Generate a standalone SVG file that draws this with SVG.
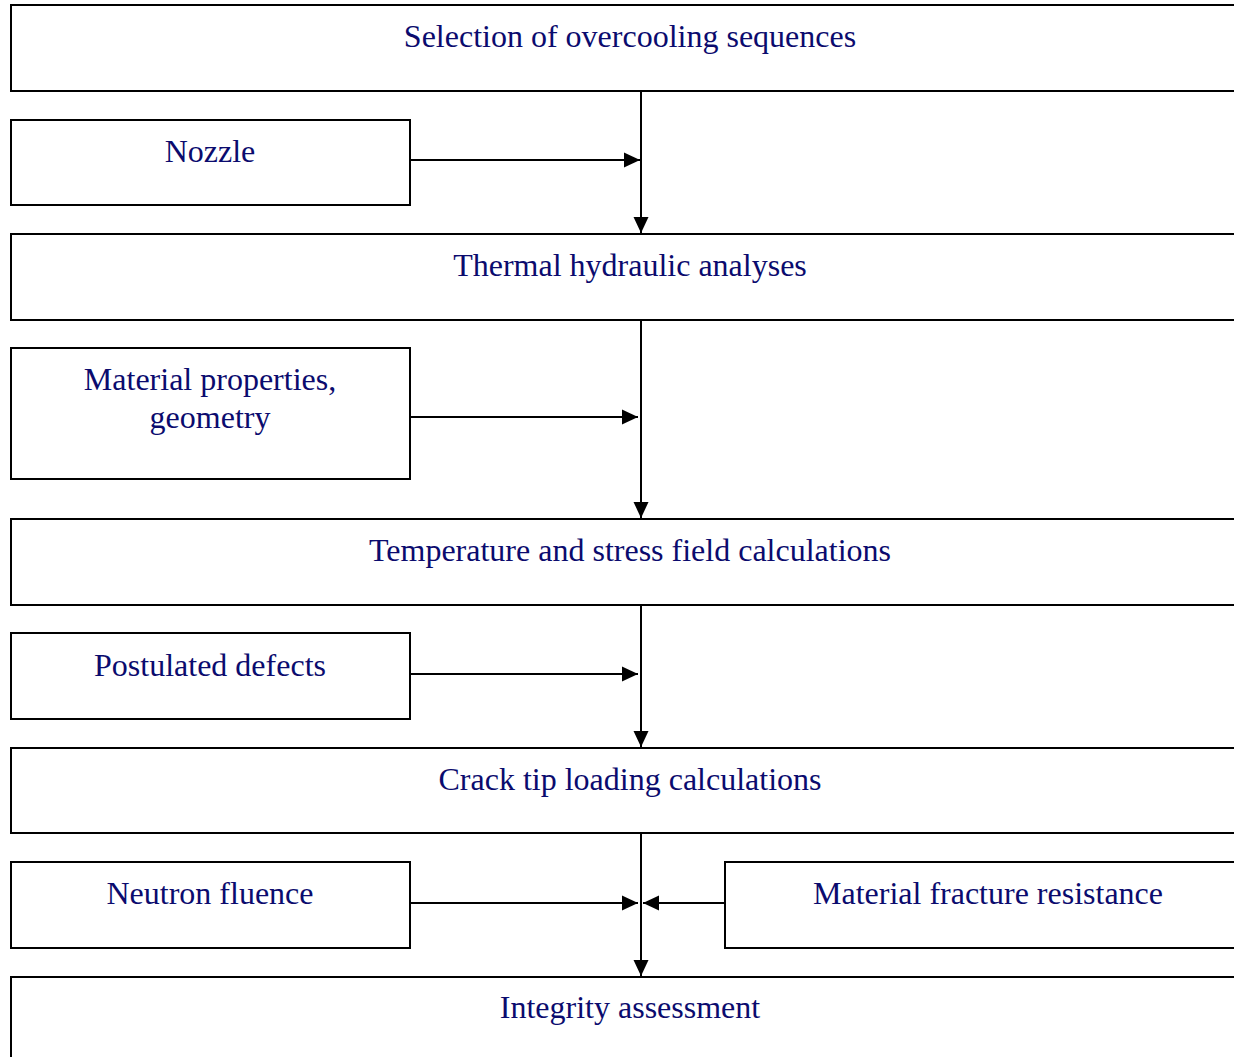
<svg xmlns="http://www.w3.org/2000/svg" width="1234" height="1057" viewBox="0 0 1234 1057">
<style>
.box{fill:#fff;stroke:#000;stroke-width:2}
.t{font-family:"Liberation Serif","Times New Roman",serif;font-size:32px;fill:#0b0b6e;text-anchor:middle}
.c{stroke:#000;stroke-width:2;fill:none}
</style>
<defs>
<marker id="ah" markerWidth="18" markerHeight="18" refX="16" refY="8.5" orient="auto" markerUnits="userSpaceOnUse">
<path d="M0,1 L16,8.5 L0,16 Z" fill="#000"/>
</marker>
</defs>
<rect width="1234" height="1057" fill="#fff"/>
<g id="n1"><rect class="box" x="11" y="5" width="1240" height="86"/><text class="t" x="630" y="47">Selection of overcooling sequences</text></g>
<g id="n2"><rect class="box" x="11" y="120" width="399" height="85"/><text class="t" x="210" y="162">Nozzle</text></g>
<g id="n3"><rect class="box" x="11" y="234" width="1240" height="86"/><text class="t" x="630" y="276">Thermal hydraulic analyses</text></g>
<g id="n4"><rect class="box" x="11" y="348" width="399" height="131"/><text class="t" x="210" y="390">Material properties,</text><text class="t" x="210" y="428">geometry</text></g>
<g id="n5"><rect class="box" x="11" y="519" width="1240" height="86"/><text class="t" x="630" y="561">Temperature and stress field calculations</text></g>
<g id="n6"><rect class="box" x="11" y="633" width="399" height="86"/><text class="t" x="210" y="676">Postulated defects</text></g>
<g id="n7"><rect class="box" x="11" y="748" width="1240" height="85"/><text class="t" x="630" y="790">Crack tip loading calculations</text></g>
<g id="n8"><rect class="box" x="11" y="862" width="399" height="86"/><text class="t" x="210" y="904">Neutron fluence</text></g>
<g id="n9"><rect class="box" x="725" y="862" width="530" height="86"/><text class="t" x="988" y="904">Material fracture resistance</text></g>
<g id="n10"><rect class="box" x="11" y="977" width="1240" height="100"/><text class="t" x="630" y="1018">Integrity assessment</text></g>
<g id="connectors">
<line class="c" x1="641" y1="91" x2="641" y2="233" marker-end="url(#ah)"/>
<line class="c" x1="410" y1="160" x2="640" y2="160" marker-end="url(#ah)"/>
<line class="c" x1="641" y1="320" x2="641" y2="518" marker-end="url(#ah)"/>
<line class="c" x1="410" y1="417" x2="638" y2="417" marker-end="url(#ah)"/>
<line class="c" x1="641" y1="605" x2="641" y2="747" marker-end="url(#ah)"/>
<line class="c" x1="410" y1="674" x2="638" y2="674" marker-end="url(#ah)"/>
<line class="c" x1="641" y1="833" x2="641" y2="976" marker-end="url(#ah)"/>
<line class="c" x1="410" y1="903" x2="638" y2="903" marker-end="url(#ah)"/>
<line class="c" x1="725" y1="903" x2="643" y2="903" marker-end="url(#ah)"/>
</g>
</svg>
